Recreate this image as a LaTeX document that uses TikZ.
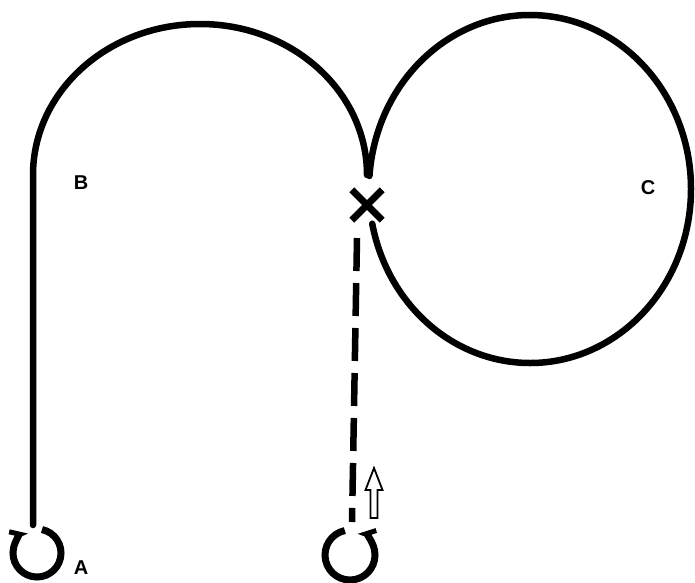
\documentclass[tikz,border=0pt]{standalone}
\usepackage{fontspec}
\setmainfont{Liberation Sans}
\usetikzlibrary{arrows.meta}
\tikzset{
  track/.style={line width=6.5pt, line cap=round},
  loopline/.style={line width=7pt},
  dashtrack/.style={line width=6.5pt, dash pattern=on 33pt off 12pt},
  lbl/.style={font=\bfseries\fontsize{20}{20}\selectfont, inner sep=0pt},
  hollow/.style={draw, line width=1.8pt, fill=white, line join=miter},
}
\begin{document}
\begin{tikzpicture}[x=1pt,y=1pt,yscale=-1]
\useasboundingbox (0,0) rectangle (695,582);
% named points
\coordinate (Abot) at (33,525);
\coordinate (Bpt) at (33,175);
\coordinate (cusp) at (367,175);
\coordinate (dashtop) at (357,238);
\coordinate (dashbot) at (352,522);
% left track and top arc
\draw[track] (Abot) -- (Bpt) arc[start angle=180, end angle=360, x radius=167, y radius=151];
% right circle with small gap on the left
\draw[track] (530,189) ++(184.3:161 and 174) arc[start angle=184.3, end angle=528.5, x radius=161, y radius=174];
% X mark
\node[inner sep=0pt, minimum size=30pt] (X) at (367,205) {};
\draw[line width=7pt] (X.north west) -- (X.south east);
\draw[line width=7pt] (X.north east) -- (X.south west);
% dashed line
\draw[dashtrack] (dashtop) -- (dashbot);
% loop A
\draw[loopline, -{Straight Barb[harpoon,length=9pt,width=14pt,line width=5pt]}]
  (37,553) ++(282:24) arc[start angle=282, end angle=605, radius=24];
% loop at bottom of dashed line
\draw[loopline, -{Straight Barb[harpoon,swap,length=9pt,width=14pt,line width=5pt]}]
  (350,555) ++(258:25) arc[start angle=258, end angle=-70, radius=25];
% hollow up arrow
\draw[hollow] (370.5,518) -- (370.5,490) -- (365.5,490) -- (374,468) -- (382.5,490) -- (377.5,490) -- (377.5,518) -- cycle;
% labels
\node[lbl] (B) at (81,183) {B};
\node[lbl] (C) at (648,188) {C};
\node[lbl] (A) at (81,568) {A};
\end{tikzpicture}
\end{document}
